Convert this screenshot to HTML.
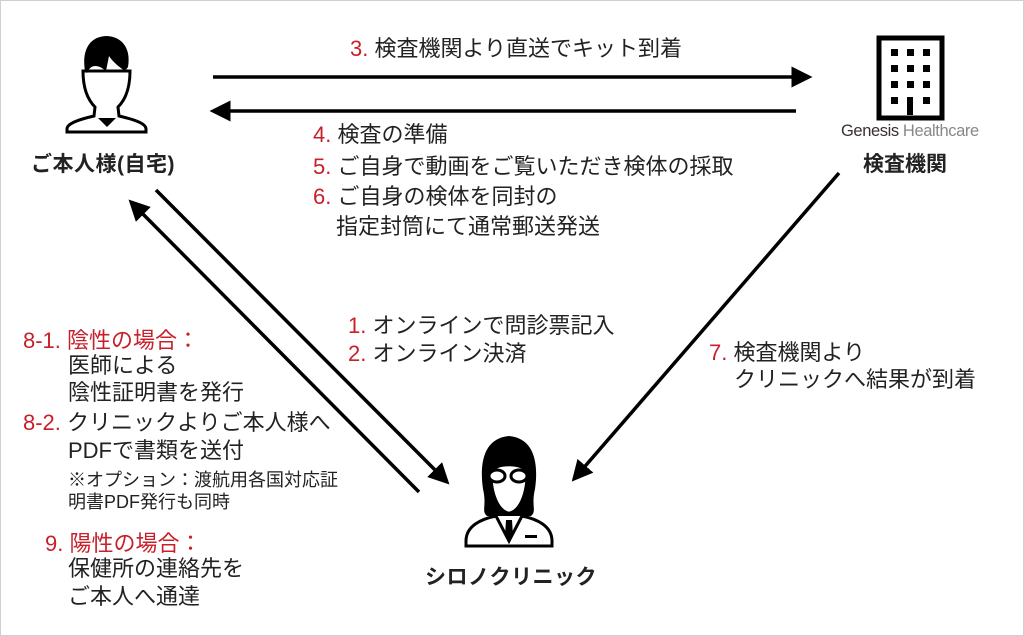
<!DOCTYPE html>
<html><head><meta charset="utf-8"><style>
body{margin:0;background:#fff}
#c{position:relative;width:1022px;height:634px;border:1px solid #d0d0d0;overflow:hidden;font-family:"Liberation Sans","Noto Sans CJK JP",sans-serif;color:#222}
.t{position:absolute;font-size:22px;line-height:28px;white-space:nowrap}
.r{color:#c8202a}
.b{font-weight:bold;font-size:21px}
</style></head><body><div id="c">
<svg width="1022" height="634" style="position:absolute;left:0;top:0">
<defs><marker id="a" markerWidth="6" markerHeight="6" refX="5" refY="3" orient="auto" markerUnits="strokeWidth"><path d="M0,0L6,3L0,6z" fill="#000"/></marker></defs>
<g stroke="#000" stroke-width="3.5" fill="none">
<line x1="212" y1="76" x2="808" y2="76" marker-end="url(#a)"/>
<line x1="795" y1="110" x2="212" y2="110" marker-end="url(#a)"/>
<line x1="418" y1="491" x2="130" y2="201" marker-end="url(#a)"/>
<line x1="155" y1="189" x2="446" y2="481" marker-end="url(#a)"/>
<line x1="838" y1="172" x2="573" y2="478" marker-end="url(#a)"/>
</g>
<g stroke="#000" stroke-width="3" fill="#fff">
<path d="M82,70 C82,92 90,102 94,106 L93,115 C80,118 66,122 66,128 L66,131 L145,131 L145,128 C145,122 131,118 118,115 L117,106 C121,102 129,92 129,70 Z"/>
</g>
<path d="M84,70 C80,45 92,35 106,35 C122,36 130,48 127,66 L124,70 C118,66 111,60 108,55 L105,70 C98,64 90,62 86,72 Z" fill="#000"/>
<path d="M97,117 L106,126 L115,117 Z" fill="#000"/>
<rect x="878" y="37" width="63" height="80" fill="none" stroke="#000" stroke-width="5"/>
<g fill="#000">
<rect x="890" y="48" width="7" height="7"/><rect x="906" y="48" width="7" height="7"/><rect x="922" y="48" width="7" height="7"/>
<rect x="890" y="64" width="7" height="7"/><rect x="906" y="64" width="7" height="7"/><rect x="922" y="64" width="7" height="7"/>
<rect x="890" y="80" width="7" height="7"/><rect x="906" y="80" width="7" height="7"/><rect x="922" y="80" width="7" height="7"/>
<rect x="890" y="96" width="7" height="7"/><rect x="906" y="96" width="6" height="18"/><rect x="922" y="96" width="7" height="7"/>
</g>
<path d="M482,488 C478,460 484,437 508,435 C532,437 538,460 534,488 C530,505 536,510 530,515 L486,515 C480,510 486,505 482,488Z" fill="#000"/>
<path d="M490,470 C490,495 498,510 508,512 C518,510 526,495 526,470 C518,462 498,462 490,470Z" fill="#fff" stroke="#000" stroke-width="2.5"/>
<g stroke="#000" stroke-width="3" fill="#fff">
<ellipse cx="496" cy="475" rx="8" ry="6"/><ellipse cx="518" cy="475" rx="8" ry="6"/>
<path d="M465,540 C465,525 480,518 495,515 L508,540 L521,515 C536,518 551,525 551,540 L551,545 L465,545Z"/>
</g>
<path d="M505,519 L511,519 L512,535 L508,540 L504,535Z" fill="#000"/>
<rect x="524" y="534" width="12" height="3" fill="#000"/>
</svg>
<div class="t b" style="left:30px;top:150px;letter-spacing:0.5px">ご本人様(自宅)</div>
<div class="t b" style="left:862px;top:150px">検査機関</div>
<div class="t b" style="left:424px;top:563px;letter-spacing:0.5px">シロノクリニック</div>
<div class="t" style="left:840px;top:120px;font-size:16.5px;line-height:20px;letter-spacing:-0.4px"><span style="color:#3a3030">Genesis</span> <span style="color:#888">Healthcare</span></div>
<div class="t" style="left:349px;top:34px"><span class="r">3.</span> 検査機関より直送でキット到着</div>
<div class="t" style="left:312px;top:120px"><span class="r">4.</span> 検査の準備</div>
<div class="t" style="left:312px;top:152px"><span class="r">5.</span> ご自身で動画をご覧いただき検体の採取</div>
<div class="t" style="left:312px;top:182px"><span class="r">6.</span> ご自身の検体を同封の</div>
<div class="t" style="left:335px;top:212px">指定封筒にて通常郵送発送</div>
<div class="t" style="left:347px;top:311px"><span class="r">1.</span> オンラインで問診票記入</div>
<div class="t" style="left:347px;top:339px"><span class="r">2.</span> オンライン決済</div>
<div class="t" style="left:708px;top:338px"><span class="r">7.</span> 検査機関より</div>
<div class="t" style="left:733px;top:365px">クリニックへ結果が到着</div>
<div class="t r" style="left:22px;top:326px">8-1. 陰性の場合：</div>
<div class="t" style="left:67px;top:351px">医師による</div>
<div class="t" style="left:67px;top:378px">陰性証明書を発行</div>
<div class="t" style="left:22px;top:408px"><span class="r">8-2.</span> クリニックよりご本人様へ</div>
<div class="t" style="left:67px;top:436px">PDFで書類を送付</div>
<div class="t" style="left:67px;top:468px;font-size:18px;line-height:22px">※オプション：渡航用各国対応証<br>明書PDF発行も同時</div>
<div class="t r" style="left:44px;top:529px">9. 陽性の場合：</div>
<div class="t" style="left:67px;top:554px">保健所の連絡先を</div>
<div class="t" style="left:67px;top:582px">ご本人へ通達</div>
</div></body></html>
